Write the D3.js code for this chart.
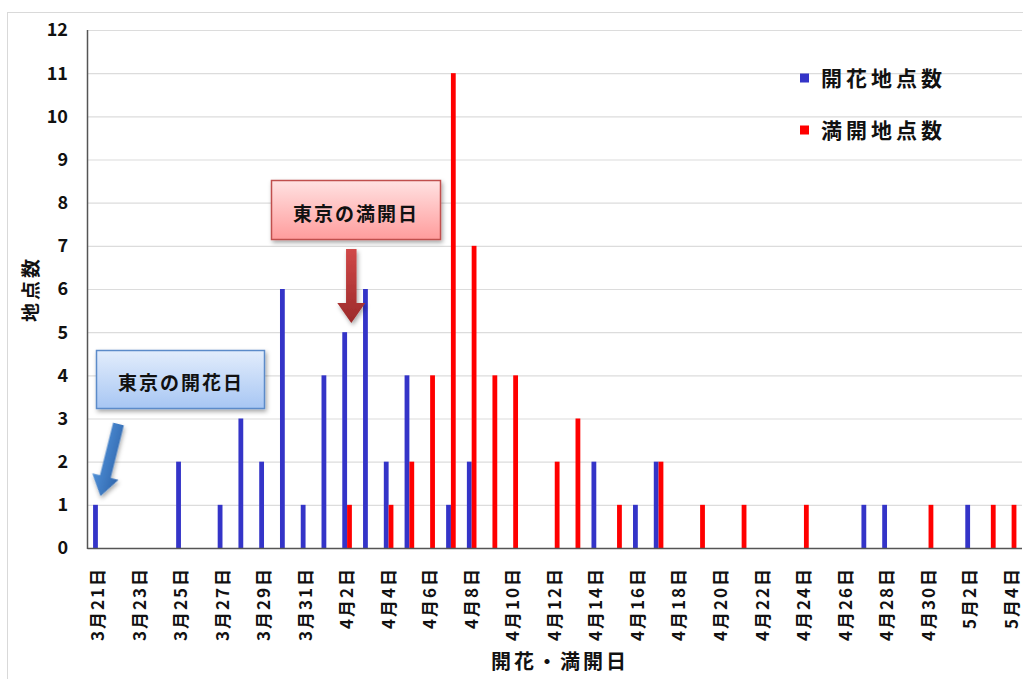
<!DOCTYPE html>
<html><head><meta charset="utf-8">
<script src="https://cdn.jsdelivr.net/npm/d3@7/dist/d3.min.js"></script>
<style>
html,body{margin:0;padding:0;background:#fff;}
svg{display:block;font-family:"Noto Sans CJK JP","Noto Sans",sans-serif;}
</style></head>
<body><svg id="c" width="1023" height="679"></svg>
<script>
const categories = [
 "3月21日","3月22日","3月23日","3月24日","3月25日","3月26日","3月27日","3月28日","3月29日","3月30日","3月31日",
 "4月1日","4月2日","4月3日","4月4日","4月5日","4月6日","4月7日","4月8日","4月9日","4月10日",
 "4月11日","4月12日","4月13日","4月14日","4月15日","4月16日","4月17日","4月18日","4月19日","4月20日",
 "4月21日","4月22日","4月23日","4月24日","4月25日","4月26日","4月27日","4月28日","4月29日","4月30日",
 "5月1日","5月2日","5月3日","5月4日"];
const bloomCounts = [1,0,0,0,2,0,1,3,2,6,1, 4,5,6,2,4,0,1,2,0,0, 0,0,0,2,0,1,2,0,0,0, 0,0,0,0,0,0,1,1,0,0, 0,1,0,0];
const fullCounts  = [0,0,0,0,0,0,0,0,0,0,0, 0,1,0,1,2,4,11,7,4,4, 0,2,3,0,1,0,2,0,1,0, 1,0,0,1,0,0,0,0,0,1, 0,0,1,1];
const seriesNames = ["開花地点数","満開地点数"];
const seriesColors = ["#3434c8","#ff0000"];
const yTicks = [0,1,2,3,4,5,6,7,8,9,10,11,12];
const tickLabels = categories.filter((d,i)=>i%2===0);

const svg = d3.select("#c");
const defs = svg.append("defs");

// frame
svg.append("rect").attr("x",7.5).attr("y",12.5).attr("width",1100).attr("height",800)
  .attr("fill","none").attr("stroke","#d9d9d9").attr("stroke-width",1);

const L = 87.5, R = 1022, T = 30, B = 548;
const x = d3.scaleBand().domain(categories).range([L,R]).padding(0);
const y = d3.scaleLinear().domain([0,12]).range([B,T]);
const sub = d3.scaleBand().domain([0,1]).range([-4.8,4.8]).padding(0);

// gridlines
svg.append("g").selectAll("line").data(yTicks.filter(d=>d>0)).join("line")
  .attr("x1",L).attr("x2",R).attr("y1",d=>y(d)+0.5).attr("y2",d=>y(d)+0.5)
  .attr("stroke","#dcdcdc").attr("stroke-width",1.2);

// bars
const series = [bloomCounts, fullCounts];
series.forEach((vals,si)=>{
  svg.append("g").selectAll("rect").data(vals.map((v,i)=>({c:categories[i],v})).filter(d=>d.v>0)).join("rect")
    .attr("x",d=>x(d.c)+x.bandwidth()/2+sub(si))
    .attr("width",sub.bandwidth())
    .attr("y",d=>y(d.v))
    .attr("height",d=>y(0)-y(d.v))
    .attr("fill",seriesColors[si]);
});

// axes
svg.append("line").attr("x1",L).attr("x2",L).attr("y1",T).attr("y2",B+1).attr("stroke","#555").attr("stroke-width",1.5);
svg.append("line").attr("x1",L).attr("x2",R).attr("y1",B+0.5).attr("y2",B+0.5).attr("stroke","#555").attr("stroke-width",1.5);

// y tick labels
svg.append("g").selectAll("text").data(yTicks).join("text")
  .attr("x",68).attr("y",d=>y(d)).attr("dy","0.36em").attr("text-anchor","end")
  .attr("font-size",18).attr("font-weight","bold").attr("fill","#111").text(d=>d);

// x tick labels
svg.append("g").selectAll("text").data(tickLabels).join("text")
  .attr("transform",d=>`translate(${x(d)+x.bandwidth()/2},567) rotate(-90)`)
  .attr("dy","0.36em").attr("text-anchor","end")
  .attr("font-size",17).attr("font-weight","bold").attr("letter-spacing",2).attr("fill","#111").text(d=>d);

// axis titles
svg.append("text").attr("x",560).attr("y",662).attr("dy","0.35em").attr("text-anchor","middle")
  .attr("font-size",20).attr("font-weight","bold").attr("letter-spacing",3).attr("fill","#111").text("開花・満開日");
svg.append("text").attr("transform","translate(31,289) rotate(-90)").attr("dy","0.35em").attr("text-anchor","middle")
  .attr("font-size",19).attr("font-weight","bold").attr("letter-spacing",3).attr("fill","#111").text("地点数");

// legend
seriesNames.forEach((n,i)=>{
  const ly = 78 + i*52;
  svg.append("rect").attr("x",800).attr("y",ly-4.5).attr("width",9).attr("height",9).attr("fill",seriesColors[i]);
  svg.append("text").attr("x",821).attr("y",ly).attr("dy","0.36em").attr("font-size",21)
    .attr("font-weight","bold").attr("letter-spacing",4).attr("fill","#111").text(n);
});

// shadow filter
const f = defs.append("filter").attr("id","sh").attr("x","-20%").attr("y","-20%").attr("width","140%").attr("height","160%");
f.append("feDropShadow").attr("dx",1.5).attr("dy",2.5).attr("stdDeviation",2).attr("flood-color","#000").attr("flood-opacity",0.35);

function grad(id, c1, c2, horiz){
  const g = defs.append("linearGradient").attr("id",id).attr("x1",0).attr("y1",0).attr("x2",horiz?1:0).attr("y2",horiz?0:1);
  g.append("stop").attr("offset","0%").attr("stop-color",c1);
  g.append("stop").attr("offset","100%").attr("stop-color",c2);
}
grad("gBlueBox","#e3edfc","#a7c6f3");
grad("gRedBox","#ffe2e2","#ff9c9c");
grad("gBlueArr","#4f8fd6","#2f66ad",true);
grad("gRedArr","#d04848","#9c2a2a");

// blue callout
svg.append("rect").attr("x",96.5).attr("y",350.5).attr("width",168).attr("height",58)
  .attr("fill","url(#gBlueBox)").attr("stroke","#5b8bc9").attr("stroke-width",1.5).attr("filter","url(#sh)");
svg.append("text").attr("x",181).attr("y",383).attr("dy","0.35em").attr("text-anchor","middle")
  .attr("font-size",19).attr("font-weight","bold").attr("letter-spacing",2).attr("fill","#111").text("東京の開花日");

// red callout
svg.append("rect").attr("x",271.5).attr("y",180.5).attr("width",169).attr("height",59)
  .attr("fill","url(#gRedBox)").attr("stroke","#c0504d").attr("stroke-width",1.5).attr("filter","url(#sh)");
svg.append("text").attr("x",356).attr("y",214).attr("dy","0.35em").attr("text-anchor","middle")
  .attr("font-size",19).attr("font-weight","bold").attr("letter-spacing",2).attr("fill","#111").text("東京の満開日");

// arrows
function arrowPath(len, sw, hw, hl){
  return `M${-sw/2},0 L${sw/2},0 L${sw/2},${len-hl} L${hw/2},${len-hl} L0,${len} L${-hw/2},${len-hl} L${-sw/2},${len-hl} Z`;
}
svg.append("path").attr("d",arrowPath(74,10.5,28,20)).attr("transform","translate(351.3,249)")
  .attr("fill","url(#gRedArr)").attr("filter","url(#sh)");
const ax0=118.5, ay0=424, ax1=100.5, ay1=496;
const alen = Math.hypot(ax1-ax0, ay1-ay0);
const ang = Math.atan2(ay1-ay0, ax1-ax0)*180/Math.PI - 90;
svg.append("path").attr("d",arrowPath(alen,11,27,20)).attr("transform",`translate(${ax0},${ay0}) rotate(${ang})`)
  .attr("fill","url(#gBlueArr)").attr("filter","url(#sh)");
</script></body></html>
